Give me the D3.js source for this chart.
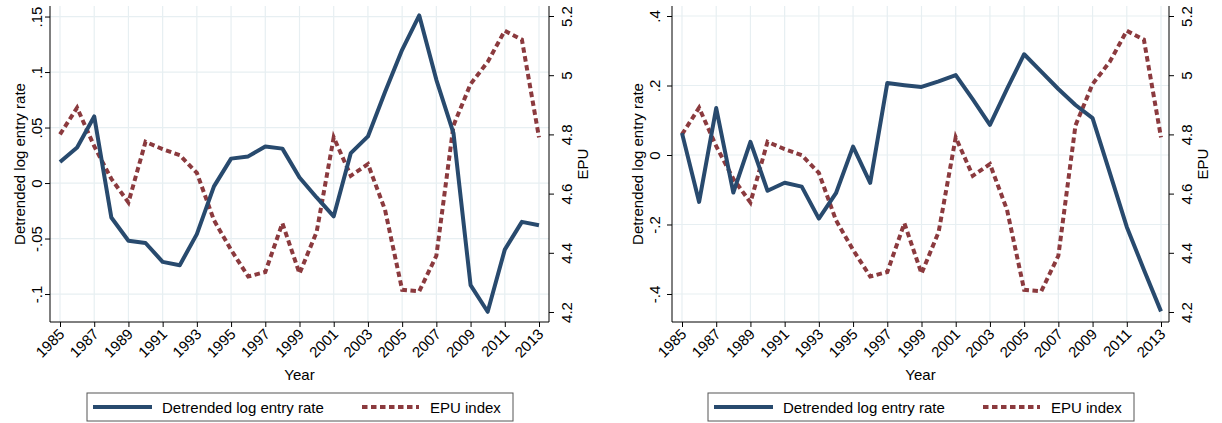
<!DOCTYPE html>
<html lang="en">
<head>
    <meta charset="UTF-8">
    <title>Entry rate and EPU</title>
    <script src="https://d3js.org/d3.v7.min.js"></script>
    <style>
        body, html { margin: 0; background: #fff; }
        svg text { font-family: "Liberation Sans", Arial, sans-serif; fill: #000; }
    </style>
</head>
<body>
<div id="chart"></div>
<script>
    var years = d3.range(1985, 2014);
    var yearTicks = d3.range(1985, 2014, 2);

    // detrended log entry rate, left panel
    var entryA = [0.019, 0.032, 0.060, -0.031, -0.052, -0.054, -0.071, -0.074, -0.046, -0.003,
        0.022, 0.024, 0.033, 0.031, 0.005, -0.013, -0.030, 0.027, 0.042, 0.082,
        0.120, 0.151, 0.093, 0.045, -0.092, -0.116, -0.060, -0.035, -0.038];
    // detrended log entry rate, right panel
    var entryB = [0.063, -0.135, 0.135, -0.108, 0.038, -0.103, -0.080, -0.091, -0.183, -0.110,
        0.024, -0.080, 0.207, 0.201, 0.196, 0.212, 0.230, 0.160, 0.087, 0.190,
        0.290, 0.240, 0.190, 0.144, 0.106, -0.050, -0.207, -0.330, -0.450];
    // EPU index (log), same in both panels
    var epu = [4.80, 4.89, 4.76, 4.65, 4.57, 4.775, 4.75, 4.73, 4.67, 4.51,
        4.41, 4.32, 4.335, 4.50, 4.33, 4.47, 4.79, 4.66, 4.70, 4.545,
        4.275, 4.27, 4.39, 4.83, 4.97, 5.045, 5.15, 5.12, 4.79];

    var ticksA = [-0.1, -0.05, 0, 0.05, 0.1, 0.15];
    var labelsA = ["-.1", "-.05", "0", ".05", ".1", ".15"];
    var ticksB = [-0.4, -0.2, 0, 0.2, 0.4];
    var labelsB = ["-.4", "-.2", "0", ".2", ".4"];
    var epuTicks = [4.2, 4.4, 4.6, 4.8, 5, 5.2];
    var epuLabels = ["4.2", "4.4", "4.6", "4.8", "5", "5.2"];

    var blue = "#284a6e", maroon = "#8b3a3e", grid = "#e7eff2";

    var svg = d3.select("#chart").append("svg")
        .attr("width", 1222).attr("height", 423);

    var plotTop = 6, plotBottom = 322;

    function drawPanel(p) {
        var g = svg.append("g");
        var x = d3.scaleLinear().domain([1985, 2013]).range([p.x0, p.x1]);
        var y = d3.scaleLinear().domain(p.yDomain).range([plotBottom, plotTop]);
        var y2 = d3.scaleLinear().domain([4.1662, 5.2338]).range([plotBottom, plotTop]);

        // grid
        g.append("g").selectAll("line").data(p.ticks).enter().append("line")
            .attr("x1", p.left).attr("x2", p.right)
            .attr("y1", d => y(d)).attr("y2", d => y(d))
            .attr("stroke", grid).attr("stroke-width", 1.2);
        g.append("g").selectAll("line").data(yearTicks).enter().append("line")
            .attr("x1", d => x(d)).attr("x2", d => x(d))
            .attr("y1", plotTop).attr("y2", plotBottom)
            .attr("stroke", grid).attr("stroke-width", 1.2);

        // axes
        var ax = g.append("g").attr("transform", "translate(" + p.left + ",0)")
            .call(d3.axisLeft(y).tickValues(p.ticks).tickFormat((d, i) => p.labels[i]).tickSize(5).tickSizeOuter(0));
        ax.selectAll("text").attr("x", 0).attr("dy", 0)
            .attr("transform", "translate(" + p.labOff + ",0) rotate(-90)")
            .attr("text-anchor", "middle").style("font-size", "15px");

        var ar = g.append("g").attr("transform", "translate(" + p.right + ",0)")
            .call(d3.axisRight(y2).tickValues(epuTicks).tickFormat((d, i) => epuLabels[i]).tickSize(5).tickSizeOuter(0));
        ar.selectAll("text").attr("x", 0).attr("dy", 0)
            .attr("transform", "translate(23,0) rotate(-90)")
            .attr("text-anchor", "middle").style("font-size", "15px");

        var ab = g.append("g").attr("transform", "translate(0," + plotBottom + ")")
            .call(d3.axisBottom(x).tickValues(yearTicks).tickFormat(d3.format("d")).tickSize(5).tickSizeOuter(0));
        ab.selectAll("text").attr("y", 0).attr("dy", 0)
            .attr("transform", "translate(5,13) rotate(-45)")
            .attr("text-anchor", "end").style("font-size", "15px");

        [ax, ar, ab].forEach(a => {
            a.select(".domain").remove();
            a.selectAll("line").attr("stroke", "#000");
        });
        g.append("line").attr("x1", p.left).attr("x2", p.left).attr("y1", plotTop).attr("y2", plotBottom).attr("stroke", "#000");
        g.append("line").attr("x1", p.right).attr("x2", p.right).attr("y1", plotTop).attr("y2", plotBottom).attr("stroke", "#000");
        g.append("line").attr("x1", p.left).attr("x2", p.right).attr("y1", plotBottom).attr("y2", plotBottom).attr("stroke", "#000");

        // titles
        g.append("text").attr("transform", "translate(" + p.titleX + "," + ((plotTop + plotBottom) / 2) + ") rotate(-90)")
            .attr("text-anchor", "middle").style("font-size", "15px").text("Detrended log entry rate");
        g.append("text").attr("transform", "translate(" + (p.right + 39) + "," + ((plotTop + plotBottom) / 2) + ") rotate(-90)")
            .attr("text-anchor", "middle").style("font-size", "15px").text("EPU");
        g.append("text").attr("x", (p.left + p.right) / 2).attr("y", 380)
            .attr("text-anchor", "middle").style("font-size", "15px").text("Year");

        // lines
        g.append("path").datum(epu)
            .attr("d", d3.line().x((d, i) => x(years[i])).y(d => y2(d)))
            .attr("fill", "none").attr("stroke", maroon).attr("stroke-width", 4)
            .attr("stroke-dasharray", "5.5,3.5");
        g.append("path").datum(p.entry)
            .attr("d", d3.line().x((d, i) => x(years[i])).y(d => y(d)))
            .attr("fill", "none").attr("stroke", blue).attr("stroke-width", 4)
            .attr("stroke-linejoin", "round");

        // legend
        var lg = g.append("g").attr("transform", "translate(" + p.legX + ",393)");
        lg.append("rect").attr("width", 426).attr("height", 28)
            .attr("fill", "#fff").attr("stroke", "#555").attr("stroke-width", 1);
        lg.append("line").attr("x1", 6).attr("x2", 65).attr("y1", 14).attr("y2", 14)
            .attr("stroke", blue).attr("stroke-width", 4);
        lg.append("text").attr("x", 75).attr("y", 19.5).style("font-size", "15px").text("Detrended log entry rate");
        lg.append("line").attr("x1", 275).attr("x2", 332).attr("y1", 14).attr("y2", 14)
            .attr("stroke", maroon).attr("stroke-width", 4).attr("stroke-dasharray", "5.5,3.5");
        lg.append("text").attr("x", 343).attr("y", 19.5).style("font-size", "15px").text("EPU index");
    }

    drawPanel({ left: 50, right: 549, x0: 60, x1: 539, yDomain: [-0.1252, 0.1595],
        ticks: ticksA, labels: labelsA, entry: entryA, labOff: -8, titleX: 25, legX: 87 });
    drawPanel({ left: 672, right: 1169, x0: 682, x1: 1161, yDomain: [-0.4806, 0.4288],
        ticks: ticksB, labels: labelsB, entry: entryB, labOff: -12, titleX: 643, legX: 708 });
</script>
</body>
</html>
